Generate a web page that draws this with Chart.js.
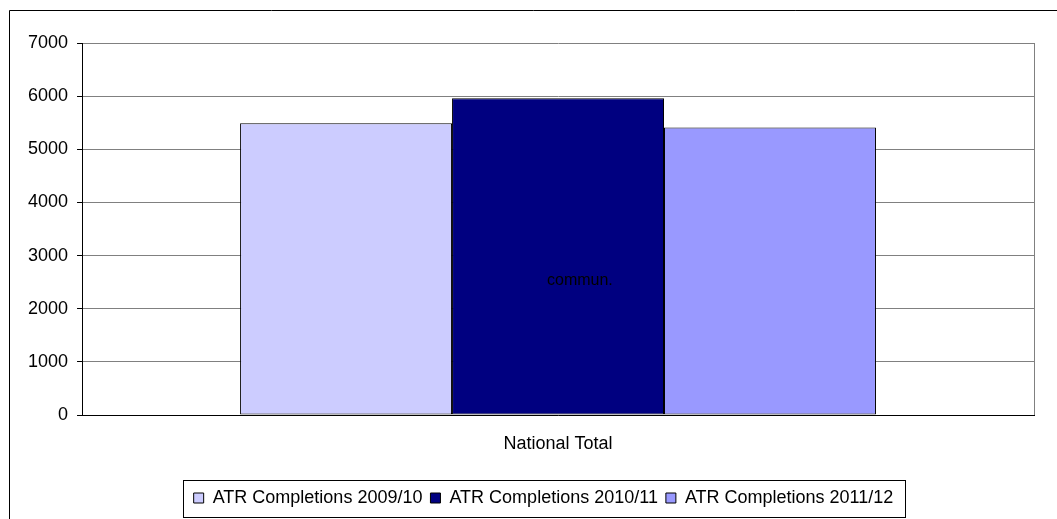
<!DOCTYPE html>
<html>
<head>
<meta charset="utf-8">
<script src="https://cdn.jsdelivr.net/npm/chart.js@4.4.0/dist/chart.umd.min.js"></script>
<style>
  html, body { margin: 0; padding: 0; background: #fff; }
  #wrap { width: 1057px; height: 519px; }
</style>
</head>
<body>
<div id="wrap"><canvas id="atrChart" width="1057" height="519"></canvas></div>
<script>
const categories = ['National Total'];
const seriesNames = ['ATR Completions 2009/10', 'ATR Completions 2010/11', 'ATR Completions 2011/12'];
const completions2009 = [5490];
const completions2010 = [5960];
const completions2011 = [5410];
const seriesColors = ['#ccccff', '#000080', '#9999ff'];
const yTicks = [0, 1000, 2000, 3000, 4000, 5000, 6000, 7000];
const strayLabel = 'commun.';
const strayLabelValue = 2520;

const font = "'Liberation Sans', Arial, sans-serif";

// frame around the chart, right border of the plot, legend box and the stray label
const extras = {
    id: 'extras',
    afterLayout(chart) {
        // legend sits a bit right of centre in the original
        chart.legend.left += 17;
        chart.legend.right += 17;
    },
    afterDraw(chart) {
        const ctx = chart.ctx;
        const area = chart.chartArea;
        ctx.save();
        ctx.strokeStyle = '#000';
        ctx.lineWidth = 1;
        ctx.beginPath();
        ctx.moveTo(9.5, 519);
        ctx.lineTo(9.5, 10.5);
        ctx.lineTo(1057, 10.5);
        ctx.stroke();

        ctx.strokeStyle = '#808080';
        ctx.beginPath();
        ctx.moveTo(Math.round(area.right) + 0.5, area.top);
        ctx.lineTo(Math.round(area.right) + 0.5, area.bottom);
        ctx.stroke();

        ctx.strokeStyle = '#000';
        ctx.strokeRect(183.5, 480.5, 722, 37);

        const x = chart.scales.x.getPixelForValue(0);
        const y = chart.scales.y.getPixelForValue(strayLabelValue);
        ctx.fillStyle = '#000';
        ctx.font = '16px ' + font;
        ctx.textAlign = 'left';
        ctx.textBaseline = 'middle';
        ctx.fillText(strayLabel, x - 11, y);
        ctx.restore();
    }
};

const ctx = document.getElementById('atrChart').getContext('2d');
new Chart(ctx, {
    type: 'bar',
    data: {
        labels: categories,
        datasets: [completions2009, completions2010, completions2011].map((d, i) => ({
            label: seriesNames[i],
            data: d,
            backgroundColor: seriesColors[i],
            borderColor: '#000',
            borderWidth: 1,
            borderSkipped: false,
            categoryPercentage: 0.668,
            barPercentage: 1
        }))
    },
    options: {
        responsive: false,
        animation: false,
        layout: { padding: { left: 19, right: 23, top: 43, bottom: 2 } },
        plugins: {
            tooltip: { enabled: false },
            legend: {
                position: 'bottom',
                labels: {
                    color: '#000',
                    font: { family: font, size: 18 },
                    boxWidth: 10,
                    boxHeight: 10,
                    padding: 8
                }
            }
        },
        scales: {
            x: {
                grid: { display: false },
                border: { display: true, color: '#000' },
                ticks: { color: '#000', font: { family: font, size: 18 }, padding: 10 },
                afterFit: (s) => { s.height = 66; }
            },
            y: {
                min: 0,
                max: 7000,
                afterBuildTicks: (s) => { s.ticks = yTicks.map(v => ({ value: v })); },
                grid: { color: '#808080', tickColor: '#000', tickLength: 5 },
                border: { display: true, color: '#000' },
                ticks: {
                    color: '#000',
                    font: { family: font, size: 18 },
                    padding: 9,
                    callback: (v) => String(v)
                }
            }
        }
    },
    plugins: [extras]
});
</script>
</body>
</html>
